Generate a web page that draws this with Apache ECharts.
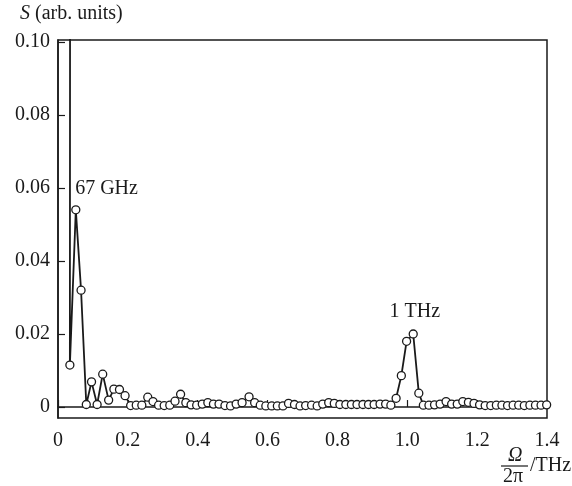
<!DOCTYPE html>
<html>
<head>
<meta charset="utf-8">
<script src="https://cdn.jsdelivr.net/npm/echarts@6/dist/echarts.min.js"></script>
<style>
  html, body { margin: 0; padding: 0; background: #fff; }
  #chart { width: 572px; height: 486px; }
</style>
</head>
<body>
<div id="chart"></div>
<script>
// frequency Ω/2π in THz
var freq = [
  0.034, 0.051, 0.066, 0.081, 0.096, 0.112, 0.128, 0.145, 0.160, 0.176,
  0.192, 0.208, 0.224, 0.240, 0.257, 0.272, 0.288, 0.304, 0.320, 0.335,
  0.351, 0.366, 0.381, 0.397, 0.413, 0.429, 0.445, 0.461, 0.478, 0.494,
  0.510, 0.527, 0.547, 0.563, 0.579, 0.595, 0.612, 0.628, 0.644, 0.660,
  0.677, 0.693, 0.709, 0.726, 0.742, 0.758, 0.775, 0.791, 0.807, 0.824,
  0.840, 0.856, 0.873, 0.889, 0.905, 0.922, 0.938, 0.953, 0.968, 0.983,
  0.998, 1.017, 1.033, 1.046, 1.062, 1.078, 1.094, 1.111, 1.127, 1.143,
  1.159, 1.175, 1.191, 1.207, 1.223, 1.239, 1.255, 1.271, 1.287, 1.303,
  1.319, 1.335, 1.351, 1.367, 1.383, 1.399
];
// S, arb. units
var signal = [
  0.0115, 0.054, 0.032, 0.0007, 0.0069, 0.0007, 0.009, 0.0019, 0.0049, 0.0048,
  0.0031, 0.0004, 0.0005, 0.0005, 0.0027, 0.0015, 0.0005, 0.0004, 0.0005, 0.0016,
  0.0035, 0.0012, 0.0006, 0.0005, 0.0008, 0.0012, 0.0008, 0.0008, 0.0004, 0.0003,
  0.0008, 0.0012, 0.0028, 0.0012, 0.0005, 0.0003, 0.0003, 0.0003, 0.0003, 0.0010,
  0.0007, 0.0003, 0.0004, 0.0005, 0.0003, 0.0008, 0.0012, 0.0010, 0.0007, 0.0007,
  0.0007, 0.0007, 0.0007, 0.0007, 0.0007, 0.0008, 0.0008, 0.0005, 0.0024, 0.0086,
  0.018, 0.020, 0.0038, 0.0005, 0.0005, 0.0006, 0.0008, 0.0015, 0.0008, 0.0008,
  0.0015, 0.0013, 0.0010, 0.0006, 0.0004, 0.0004, 0.0005, 0.0005, 0.0004, 0.0005,
  0.0005, 0.0004, 0.0005, 0.0005, 0.0005, 0.0006
];
// off-scale low-frequency component (goes out of the top of the plot)
var offFreq = [0.035];
var offSignal = [0.2];

var xTicks = [0, 0.2, 0.4, 0.6, 0.8, 1.0, 1.2, 1.4];
var yTicks = [0, 0.02, 0.04, 0.06, 0.08, 0.10];

// peak labels: index into freq/signal
var peakIdx = [1, 61];
var peakText = ['67 GHz', '1 THz'];

var FONT = '"Liberation Serif", "Times New Roman", serif';
var FS = 20;
var INK = '#1a1a1a';

var seriesData = [];
for (var j = 0; j < offFreq.length; j++) {
  seriesData.push({ value: [offFreq[j], offSignal[j]], symbol: 'none' });
}
freq.forEach(function (f, i) {
  var item = { value: [f, signal[i]] };
  var p = peakIdx.indexOf(i);
  if (p >= 0) {
    item.label = {
      show: true,
      formatter: peakText[p],
      position: p === 0 ? [4, -26] : [-19, -28],
      color: INK,
      fontFamily: FONT,
      fontSize: FS
    };
  }
  seriesData.push(item);
});

var chart = echarts.init(document.getElementById('chart'));
chart.setOption({
  animation: false,
  grid: {
    left: 58, right: 25, top: 40, bottom: 68,
    show: true, borderColor: INK, borderWidth: 1.5,
    backgroundColor: 'transparent'
  },
  xAxis: {
    type: 'value',
    min: 0, max: 1.4, interval: 0.2,
    axisLine: { lineStyle: { color: INK, width: 1.5 } },
    axisTick: { inside: true, length: 7, lineStyle: { color: INK, width: 1.2 } },
    splitLine: { show: false },
    axisLabel: {
      color: INK, fontFamily: FONT, fontSize: FS, margin: 13,
      customValues: xTicks,
      formatter: function (v) { return v === 0 ? '0' : v.toFixed(1); }
    }
  },
  yAxis: {
    type: 'value',
    min: -0.003, max: 0.1005,
    axisLine: { lineStyle: { color: INK, width: 1.5 } },
    axisTick: { inside: true, length: 7, customValues: yTicks, lineStyle: { color: INK, width: 1.2 } },
    splitLine: { show: false },
    axisLabel: {
      color: INK, fontFamily: FONT, fontSize: FS, margin: 8,
      customValues: yTicks,
      formatter: function (v) { return v === 0 ? '0' : v.toFixed(2); }
    },
    name: '{i|S} (arb. units)',
    nameLocation: 'end',
    nameGap: 16,
    nameTextStyle: {
      color: INK, fontFamily: FONT, fontSize: FS,
      align: 'left', padding: [0, 0, 0, -38],
      rich: { i: { fontStyle: 'italic', fontFamily: FONT, fontSize: FS, color: INK } }
    }
  },
  graphic: [
    { type: 'text', left: 508, top: 446,
      style: { text: 'Ω', font: 'italic ' + FS + 'px ' + FONT, fill: INK } },
    { type: 'line', shape: { x1: 501, y1: 466, x2: 528, y2: 466 },
      style: { stroke: INK, lineWidth: 1.2 } },
    { type: 'text', left: 503, top: 467,
      style: { text: '2π', font: FS + 'px ' + FONT, fill: INK } },
    { type: 'text', left: 530, top: 456,
      style: { text: '/THz', font: FS + 'px ' + FONT, fill: INK } }
  ],
  series: [{
    type: 'line',
    data: seriesData,
    clip: true,
    symbol: 'circle',
    symbolSize: 8,
    itemStyle: { color: '#fff', borderColor: INK, borderWidth: 1.3 },
    lineStyle: { color: INK, width: 1.8 },
    emphasis: { disabled: true }
  }]
});
</script>
</body>
</html>
